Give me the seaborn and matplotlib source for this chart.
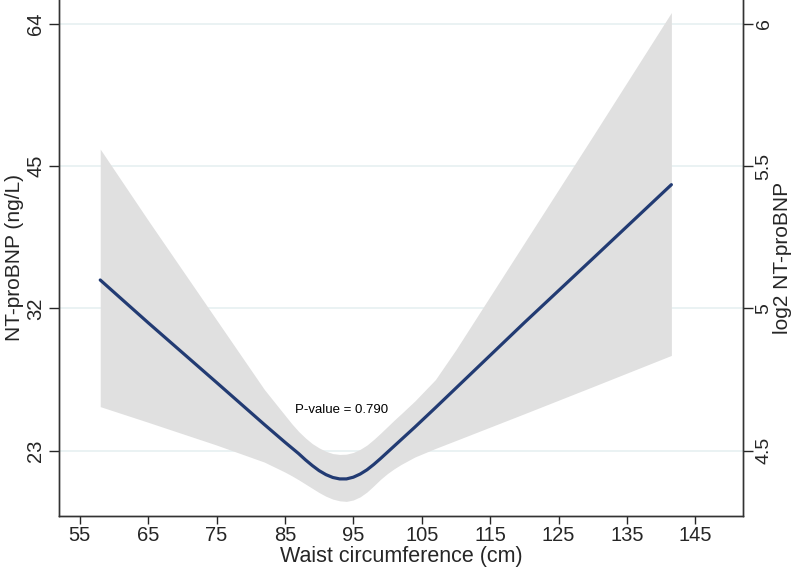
import numpy as np
import pandas as pd
import matplotlib
matplotlib.use("Agg")
import matplotlib.pyplot as plt
import seaborn as sns

# waist circumference (cm) and log2 NT-proBNP
waist = [58, 65, 75, 82, 85, 86, 87, 88, 89, 90, 91, 92, 93, 94, 95, 96, 97, 98,
         99, 100, 101, 102, 104, 107, 110, 120, 130, 141.5]
log2_fit = [5.10, 4.95, 4.74, 4.592, 4.53, 4.51, 4.49, 4.468, 4.448, 4.43, 4.416,
            4.406, 4.401, 4.401, 4.407, 4.418, 4.433, 4.452, 4.473, 4.495, 4.517,
            4.539, 4.583, 4.651, 4.72, 4.95, 5.175, 5.435]
log2_upper = [5.56, 5.31, 4.96, 4.715, 4.625, 4.595, 4.568, 4.545, 4.525, 4.51,
              4.498, 4.49, 4.487, 4.488, 4.494, 4.505, 4.52, 4.54, 4.562, 4.585,
              4.608, 4.63, 4.675, 4.75, 4.855, 5.23, 5.605, 6.04]
log2_lower = [4.655, 4.60, 4.52, 4.46, 4.425, 4.412, 4.398, 4.383, 4.368, 4.353,
              4.34, 4.33, 4.324, 4.322, 4.327, 4.338, 4.355, 4.377, 4.40, 4.42,
              4.437, 4.452, 4.478, 4.508, 4.536, 4.63, 4.725, 4.835]

x_ticks = [55, 65, 75, 85, 95, 105, 115, 125, 135, 145]
log2_ticks = [4.5, 5, 5.5, 6]
ngl_labels = ["23", "32", "45", "64"]
log2_labels = ["4.5", "5", "5.5", "6"]
p_text = "P-value = 0.790"

df = pd.DataFrame({"waist": waist, "fit": log2_fit, "lo": log2_lower, "hi": log2_upper})

sns.set_style("white")
plt.rcParams["font.family"] = ["Liberation Sans", "DejaVu Sans"]

fig = plt.figure(figsize=(8, 5.71), dpi=100)
ax = fig.add_axes([0.074, 0.097, 0.855, 0.903])

# grid lines
for t in log2_ticks:
    ax.axhline(t, color="#e6f0f1", lw=1.2, zorder=0)

# confidence band + fitted spline
ax.fill_between(df["waist"], df["lo"], df["hi"], color="#e0e0e0", lw=0, zorder=1)
sns.lineplot(data=df, x="waist", y="fit", ax=ax, color="#223b73", lw=2.3, zorder=3)

ax.text(93.3, 4.643, p_text, ha="center", va="center", fontsize=9.5, color="black")

ax.set_xlim(52, 152)
ax.set_ylim(4.272, 6.084)
ax.set_xticks(x_ticks)
ax.set_xticklabels([str(v) for v in x_ticks], fontsize=14.5)
ax.set_yticks(log2_ticks)
ax.set_yticklabels(ngl_labels, fontsize=14.5, rotation=90, va="center")
ax.set_xlabel("Waist circumference (cm)", fontsize=15.5, labelpad=1)
ax.set_ylabel("NT-proBNP (ng/L)", fontsize=15, labelpad=2)
ax.tick_params(axis="x", length=6, width=1, direction="out", pad=1.5, bottom=True)
ax.tick_params(axis="y", length=7, width=1, direction="out", pad=3, left=True)

ax2 = ax.twinx()
ax2.set_ylim(ax.get_ylim())
ax2.set_yticks(log2_ticks)
ax2.set_yticklabels(log2_labels, fontsize=14, rotation=90, va="center")
ax2.set_ylabel("log2 NT-proBNP", fontsize=15, rotation=90, labelpad=0)
ax2.tick_params(axis="y", length=7, width=1, direction="out", pad=2, right=True)

for a in (ax, ax2):
    a.spines["top"].set_visible(False)
    for s in ("left", "bottom", "right"):
        a.spines[s].set_color("#333333")
        a.spines[s].set_linewidth(1)

fig.savefig("out.png", dpi=100)
